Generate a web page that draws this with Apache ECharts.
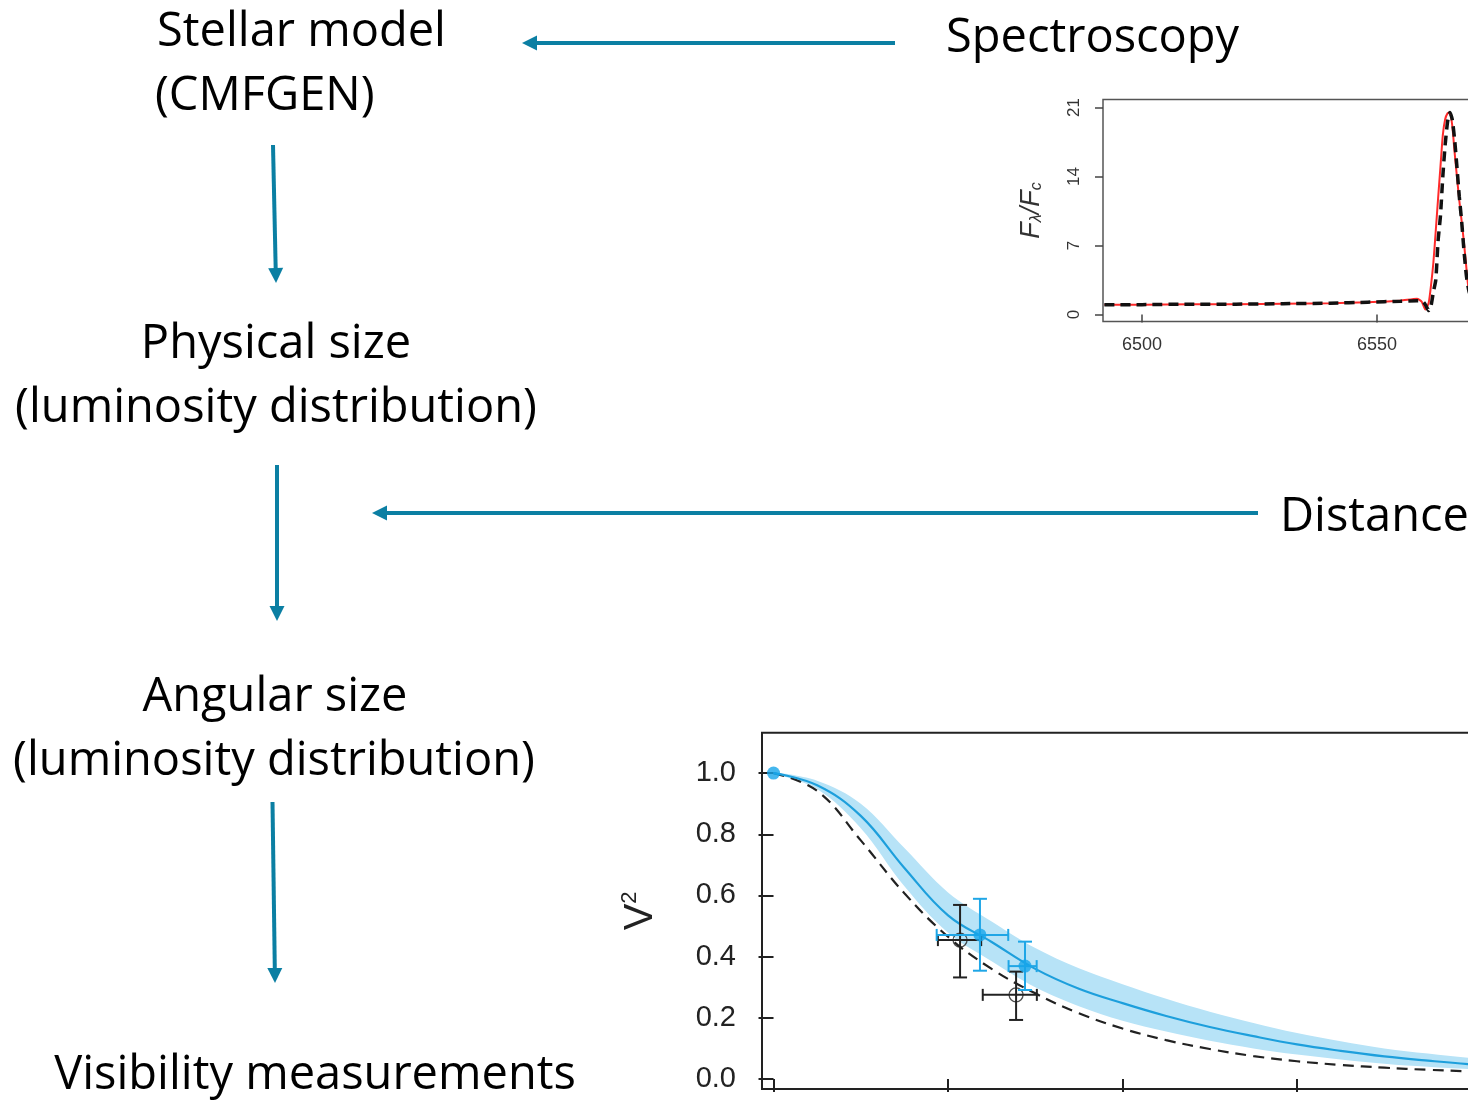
<!DOCTYPE html>
<html><head><meta charset="utf-8">
<script src="https://cdn.jsdelivr.net/npm/echarts@6/dist/echarts.min.js"></script>
<style>html,body{margin:0;padding:0;background:#fff}#c{width:1468px;height:1101px}</style>
</head><body><div id="c"></div>
<script>
// ---------- Spectroscopy panel (H-alpha profile) ----------
const specWave  = [6492, 6500, 6510, 6520, 6530, 6540, 6548, 6555, 6558.5, 6559.5, 6560.3, 6561, 6561.5, 6562, 6562.5, 6563, 6563.5, 6564, 6564.5, 6565, 6565.5, 6566, 6566.5, 6567, 6567.5, 6568, 6568.5, 6569, 6569.5, 6570, 6571];
const specModel = [1.0, 1.0, 1.05, 1.05, 1.1, 1.15, 1.25, 1.4, 1.6, 1.3, 0.5, 1.2, 3.0, 5.3, 8.5, 11.8, 15.0, 18.2, 19.8, 20.4, 20.5, 19.2, 16.5, 14.0, 11.6, 9.5, 7.3, 4.8, 2.5, 1.8, 1.5];
const specObs   = [1.0, 1.0, 1.05, 1.05, 1.1, 1.15, 1.25, 1.35, 1.4, 1.4, 1.0, 0.4, 0.9, 2.3, 3.5, 7.5, 10.0, 14.0, 17.2, 19.5, 20.5, 19.8, 17.8, 15.0, 12.0, 9.5, 6.5, 4.0, 2.5, 1.8, 1.5];
const specYTicks = [0, 7, 14, 21];
const specXTicks = [6500, 6550, 6600];

// ---------- Visibility panel ----------
const visX        = [0, 0.25, 0.5, 0.75, 1.0, 1.25, 1.5, 1.75, 2.0, 2.25, 2.5, 2.75, 3.0, 3.25, 3.5, 3.75, 4.0, 4.25, 4.5];
const visModel    = [1.0, 0.960, 0.860, 0.690, 0.535, 0.448, 0.360, 0.295, 0.248, 0.206, 0.170, 0.140, 0.113, 0.092, 0.074, 0.060, 0.048, 0.040, 0.033];
const visBandHigh = [1.0, 0.975, 0.900, 0.755, 0.610, 0.515, 0.428, 0.362, 0.310, 0.262, 0.220, 0.183, 0.150, 0.123, 0.100, 0.083, 0.068, 0.057, 0.048];
const visBandLow  = [1.0, 0.948, 0.820, 0.630, 0.478, 0.385, 0.300, 0.238, 0.190, 0.155, 0.125, 0.100, 0.080, 0.064, 0.050, 0.040, 0.032, 0.026, 0.022];
const visAlt      = [1.0, 0.942, 0.780, 0.607, 0.465, 0.360, 0.280, 0.215, 0.165, 0.127, 0.098, 0.075, 0.058, 0.046, 0.037, 0.030, 0.025, 0.021, 0.018];
const visYTicks = [0, 0.2, 0.4, 0.6, 0.8, 1.0];
const visXTicks = [0, 1, 2, 3, 4];

// measured points: x, y, xlow, xhigh, ylow, yhigh
const blueX   = [0, 1.183, 1.441];
const blueY   = [1.0, 0.471, 0.369];
const blueXlo = [0, 0.935, 1.347];
const blueXhi = [0, 1.345, 1.508];
const blueYlo = [1.0, 0.354, 0.291];
const blueYhi = [1.0, 0.589, 0.449];
const blackX   = [1.069, 1.390];
const blackY   = [0.454, 0.275];
const blackXlo = [0.942, 1.199];
const blackXhi = [1.190, 1.509];
const blackYlo = [0.332, 0.193];
const blackYhi = [0.569, 0.351];

// ---------- Diagram texts ----------
const labels = ['Stellar model', '(CMFGEN)', 'Spectroscopy', 'Physical size', '(luminosity distribution)', 'Distance', 'Angular size', '(luminosity distribution)', 'Visibility measurements'];

const ARROW = '#0b7fa3';
const TXT = '"Open Sans", "Noto Sans", sans-serif';
const AX = '"Liberation Sans", Arial, sans-serif';

function arrow(x1, y1, x2, y2) {
  const dx = x2 - x1, dy = y2 - y1, L = Math.hypot(dx, dy), ux = dx / L, uy = dy / L;
  const hl = 15, hw = 7.5;
  const bx = x2 - ux * hl, by = y2 - uy * hl;
  return [
    {type: 'line', silent: true, shape: {x1: x1, y1: y1, x2: bx + ux, y2: by + uy}, style: {stroke: ARROW, lineWidth: 4}},
    {type: 'polygon', silent: true, shape: {points: [[x2, y2], [bx - uy * hw, by + ux * hw], [bx + uy * hw, by - ux * hw]]}, style: {fill: ARROW}}
  ];
}
function txt(s, x, y, align) {
  return {type: 'text', x: x, y: y, silent: true,
    style: {text: s, fontSize: 47, fontFamily: TXT, fill: '#000', align: align, verticalAlign: 'middle', textAlign: align, textVerticalAlign: 'middle'}};
}

const dy = 5;
const graphics = [].concat(
  txt(labels[0], 157, 27.5 + dy, 'left'),
  txt(labels[1], 155, 91.5 + dy, 'left'),
  txt(labels[2], 946, 34 + dy, 'left'),
  txt(labels[3], 276, 340 + dy, 'center'),
  txt(labels[4], 276, 404 + dy, 'center'),
  txt(labels[5], 1280, 512.5 + dy, 'left'),
  txt(labels[6], 275, 693 + dy, 'center'),
  txt(labels[7], 274, 757 + dy, 'center'),
  txt(labels[8], 315, 1071 + dy, 'center'),
  arrow(895, 43, 522, 43),
  arrow(273, 145, 276, 283),
  arrow(277, 465, 277, 621),
  arrow(1258, 513, 372, 513),
  arrow(272.5, 802, 275, 983)
);

function errRender(color) {
  return function (params, api) {
    const x = api.value(0), y = api.value(1), xl = api.value(2), xh = api.value(3), yl = api.value(4), yh = api.value(5);
    const c = api.coord([x, y]);
    const st = {stroke: color, lineWidth: 2};
    const ch = [];
    const L = (a, b, c2, d) => ({type: 'line', shape: {x1: a, y1: b, x2: c2, y2: d}, style: st});
    if (xh > xl) {
      const a = api.coord([xl, y])[0], b = api.coord([xh, y])[0];
      ch.push(L(a, c[1], b, c[1]), L(a, c[1] - 6, a, c[1] + 6), L(b, c[1] - 6, b, c[1] + 6));
    }
    if (yh > yl) {
      const a = api.coord([x, yl])[1], b = api.coord([x, yh])[1];
      ch.push(L(c[0], a, c[0], b), L(c[0] - 7, a, c[0] + 7, a), L(c[0] - 7, b, c[0] + 7, b));
    }
    return {type: 'group', children: ch};
  };
}

function bandRender(params, api) {
  if (params.dataIndex !== 0) return null;
  const up = visX.map((x, i) => api.coord([x, visBandHigh[i]]));
  const lo = visX.map((x, i) => api.coord([x, visBandLow[i]])).slice(1).reverse();
  return {type: 'polygon', shape: {points: up.concat(lo), smooth: 0.35}, style: {fill: '#b7e3f7'}};
}

const zip = (a, b) => a.map((v, i) => [v, b[i]]);

const chart = echarts.init(document.getElementById('c'), null, {renderer: 'canvas'});
chart.setOption({
  animation: false,
  backgroundColor: '#fff',
  graphic: {elements: graphics},
  grid: [
    {left: 1103, top: 99.5, width: 470, height: 222, show: true, borderColor: '#555', borderWidth: 1.5, backgroundColor: 'transparent', containLabel: false, outerBoundsMode: 'none'},
    {left: 762, top: 732.7, width: 796.8, height: 356.3, show: true, borderColor: '#222', borderWidth: 2, backgroundColor: 'transparent', containLabel: false, outerBoundsMode: 'none'}
  ],
  xAxis: [
    {gridIndex: 0, type: 'value', min: 6491.7, max: 6591.7, splitLine: {show: false},
      axisLine: {show: false},
      axisTick: {show: true, length: 8, customValues: specXTicks, lineStyle: {color: '#444', width: 1.5}},
      axisLabel: {show: true, customValues: specXTicks, margin: 15, fontSize: 18, fontFamily: AX, color: '#333',
        formatter: v => String(v)}},
    {gridIndex: 1, type: 'value', min: -0.066, max: 4.5, splitLine: {show: false},
      axisLine: {show: false},
      axisTick: {show: true, length: 13, customValues: visXTicks, lineStyle: {color: '#222', width: 2}},
      axisLabel: {show: false}}
  ],
  yAxis: [
    {gridIndex: 0, type: 'value', min: -0.71, max: 21.81, splitLine: {show: false},
      axisLine: {show: false},
      axisTick: {show: true, length: 8, customValues: specYTicks, lineStyle: {color: '#444', width: 1.5}},
      axisLabel: {show: true, customValues: specYTicks, rotate: 90, margin: 20, fontSize: 17, fontFamily: AX, color: '#333',
        formatter: v => String(v)},
      name: '{i|F}{s|λ}{i|/F}{s|c}', nameLocation: 'middle', nameGap: 58, nameRotate: 90,
      nameTextStyle: {fontSize: 26, fontFamily: AX, color: '#333', fontStyle: 'italic',
        rich: {i: {fontSize: 27, fontStyle: 'italic', fontFamily: AX, color: '#333'},
               s: {fontSize: 16, fontStyle: 'italic', fontFamily: AX, color: '#333', verticalAlign: 'bottom'}}}},
    {gridIndex: 1, type: 'value', min: -0.0327, max: 1.132, splitLine: {show: false},
      axisLine: {show: false},
      axisTick: {show: true, length: 15, customValues: visYTicks, lineStyle: {color: '#222', width: 2}},
      axisLabel: {show: true, customValues: visYTicks, margin: 26, fontSize: 29, fontFamily: AX, color: '#222',
        formatter: v => v.toFixed(1)},
      name: '{v|V}{s|2}', nameLocation: 'middle', nameGap: 99, nameRotate: 90,
      nameTextStyle: {fontSize: 40, fontFamily: AX, color: '#222',
        rich: {v: {fontSize: 40, fontFamily: AX, color: '#222', lineHeight: 44},
               s: {fontSize: 22, fontFamily: AX, color: '#222', verticalAlign: 'top', lineHeight: 22}}}}
  ],
  series: [
    {type: 'line', xAxisIndex: 0, yAxisIndex: 0, data: zip(specWave, specModel), showSymbol: false, smooth: 0.2,
      lineStyle: {color: '#ff2a2a', width: 2}, z: 3},
    {type: 'line', xAxisIndex: 0, yAxisIndex: 0, data: zip(specWave, specObs), showSymbol: false, smooth: 0.2,
      lineStyle: {color: '#111', width: 3.5, type: [10, 6]}, z: 4},

    {type: 'custom', xAxisIndex: 1, yAxisIndex: 1, renderItem: bandRender,
      data: visX.map((x, i) => [x, visBandLow[i], visBandHigh[i]]), z: 1},
    {type: 'line', xAxisIndex: 1, yAxisIndex: 1, data: zip(visX, visAlt), showSymbol: false, smooth: 0.4,
      lineStyle: {color: '#222', width: 2.2, type: [11, 7]}, z: 2},
    {type: 'line', xAxisIndex: 1, yAxisIndex: 1, data: zip(visX, visModel), showSymbol: false, smooth: 0.4,
      lineStyle: {color: '#1d9fdc', width: 2.2}, z: 3},

    {type: 'custom', xAxisIndex: 1, yAxisIndex: 1, renderItem: errRender('#222'),
      data: blackX.map((v, i) => [v, blackY[i], blackXlo[i], blackXhi[i], blackYlo[i], blackYhi[i]]), z: 4},
    {type: 'scatter', xAxisIndex: 1, yAxisIndex: 1, data: zip(blackX, blackY), symbol: 'circle', symbolSize: 14,
      itemStyle: {color: 'rgba(0,0,0,0)', borderColor: '#222', borderWidth: 1.3}, z: 5},
    {type: 'custom', xAxisIndex: 1, yAxisIndex: 1, renderItem: errRender('#1fa6e6'),
      data: blueX.map((v, i) => [v, blueY[i], blueXlo[i], blueXhi[i], blueYlo[i], blueYhi[i]]), z: 6},
    {type: 'scatter', xAxisIndex: 1, yAxisIndex: 1, data: zip(blueX, blueY), symbol: 'circle', symbolSize: 13,
      itemStyle: {color: '#16a5ea'}, z: 7}
  ]
});
</script></body></html>
